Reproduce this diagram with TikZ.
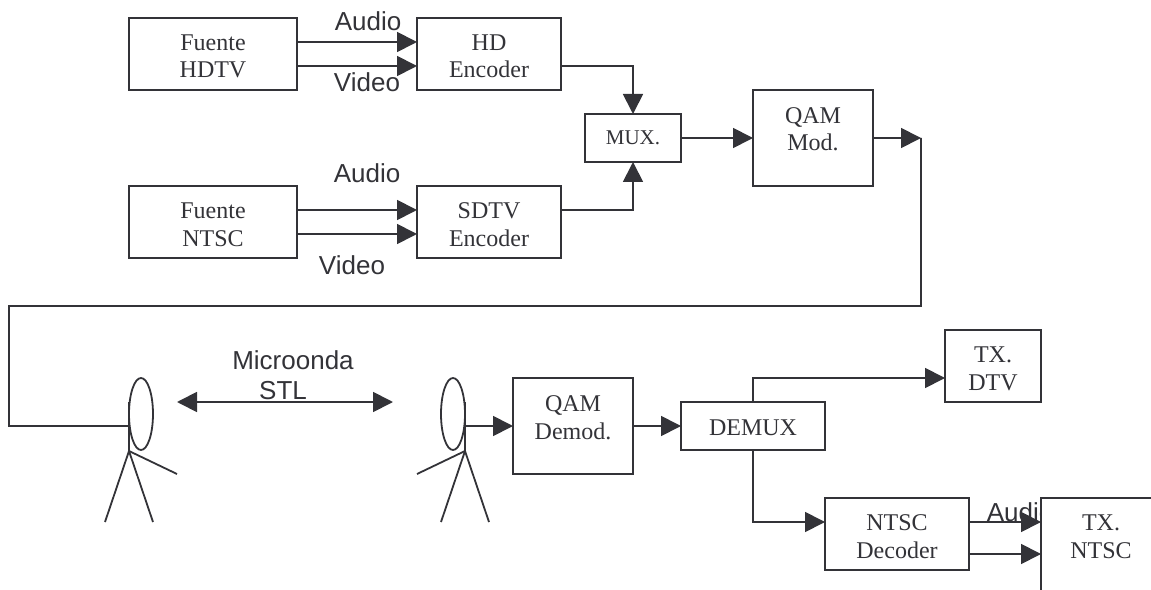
\documentclass[tikz,border=0pt]{standalone}
\usepackage{fontspec}
\setmainfont{Liberation Serif}
\newfontfamily\lblfont{Liberation Sans}
\usetikzlibrary{arrows.meta,shapes.geometric}
\definecolor{ink}{HTML}{333338}
\tikzset{
  x=1bp,y=-1bp,
  ln/.style={draw=ink,line width=1.8bp},
  arr/.style={ln,-{Triangle[length=20bp,width=20bp]}},
  dbl/.style={ln,{Triangle[length=20bp,width=20bp]}-{Triangle[length=20bp,width=20bp]}},
  blk/.style 2 args={ln,fill=white,text=ink,inner sep=0pt,outer sep=0pt,align=center,
    minimum width=#1bp,minimum height=#2bp,
    font=\fontsize{24bp}{27.5bp}\selectfont},
  up/.style={text height=#1bp,text depth=0pt},
  lbl/.style={text=ink,inner sep=0pt,anchor=base,font=\lblfont\fontsize{26bp}{28bp}\selectfont},
  ant/.style={ellipse,ln,inner sep=0pt,outer sep=0pt,minimum width=24bp,minimum height=72bp}
}
\begin{document}
\begin{tikzpicture}
\useasboundingbox (0,0) rectangle (1151,590);
\clip (0,0) rectangle (1151,590);
% label partly hidden by the TX. NTSC box
\node[lbl] (audioD) at (1020,521) {Audio};
% blocks
\node[blk={168}{72},up=48] (fh) at (213,54) {Fuente\\HDTV};
\node[blk={144}{72},up=48] (hd) at (489,54) {HD\\Encoder};
\node[blk={168}{72},up=48] (fn) at (213,222) {Fuente\\NTSC};
\node[blk={144}{72},up=48] (sd) at (489,222) {SDTV\\Encoder};
\node[blk={96}{48},up=14,font=\fontsize{21bp}{24bp}\selectfont] (mux) at (633,138) {MUX.};
\node[blk={120}{96},up=26] (qm) at (813,138) {QAM\\Mod.};
\node[blk={120}{96},up=26] (qd) at (573,426) {QAM\\Demod.};
\node[blk={144}{48},up=18] (dm) at (753,426) {DEMUX};
\node[blk={96}{72},up=48] (dtv) at (993,366) {TX.\\DTV};
\node[blk={144}{72},up=48] (dec) at (897,534) {NTSC\\Decoder};
\node[blk={120}{96},up=24] (txn) at (1101,546) {TX.\\NTSC};
% antennas
\node[ant] (a1) at (141,414) {};
\node[ant] (a2) at (453,414) {};
\coordinate (h1) at (129,451);
\coordinate (h2) at (465,451);
\draw[ln] ([yshift=12bp]a1.west) -- (h1) -- (177,474);
\draw[ln] (105,522) -- (h1) -- (153,522);
\draw[ln] ([yshift=12bp]a2.east) -- (h2) -- (417,474);
\draw[ln] (441,522) -- (h2) -- (489,522);
% labels
\node[lbl] (audioA) at (368,31) {Audio};
\node[lbl] (videoA) at (367,92) {Video};
\node[lbl] (audioB) at (367,183) {Audio};
\node[lbl] (videoB) at (352,275) {Video};
\node[lbl] (micro) at (293,369) {Microonda};
\node[lbl] (stl) at (283,399) {STL};
% connectors
\draw[arr] ([yshift=12bp]fh.east) -- ([yshift=12bp]hd.west);
\draw[arr] ([yshift=-12bp]fh.east) -- ([yshift=-12bp]hd.west);
\draw[arr] ([yshift=12bp]fn.east) -- ([yshift=12bp]sd.west);
\draw[arr] ([yshift=-12bp]fn.east) -- ([yshift=-12bp]sd.west);
\draw[arr] ([yshift=-12bp]hd.east) -| (mux.north);
\draw[arr] ([yshift=12bp]sd.east) -| (mux.south);
\draw[arr] (mux.east) -- (qm.west);
\coordinate (c1) at (921,138);
\coordinate (c2) at (921,306);
\coordinate (c3) at (9,306);
\coordinate (c4) at (9,426);
\draw[arr] (qm.east) -- (c1);
\draw[ln] (c1) -- (c2) -- (c3) -- (c4) -- ([yshift=-12bp]a1.west);
\coordinate (mwL) at (177,402);
\coordinate (mwR) at (393,402);
\draw[dbl] (mwL) -- (mwR);
\draw[arr] ([yshift=-12bp]a2.east) -- (qd.west);
\draw[arr] (qd.east) -- (dm.west);
\draw[arr] (dm.north) |- ([yshift=-12bp]dtv.west);
\draw[arr] (dm.south) |- ([yshift=12bp]dec.west);
\draw[arr] ([yshift=12bp]dec.east) -- (txn.west |- {0,522});
\draw[arr] ([yshift=-20bp]dec.east) -- (txn.west |- {0,554});
\end{tikzpicture}
\end{document}
